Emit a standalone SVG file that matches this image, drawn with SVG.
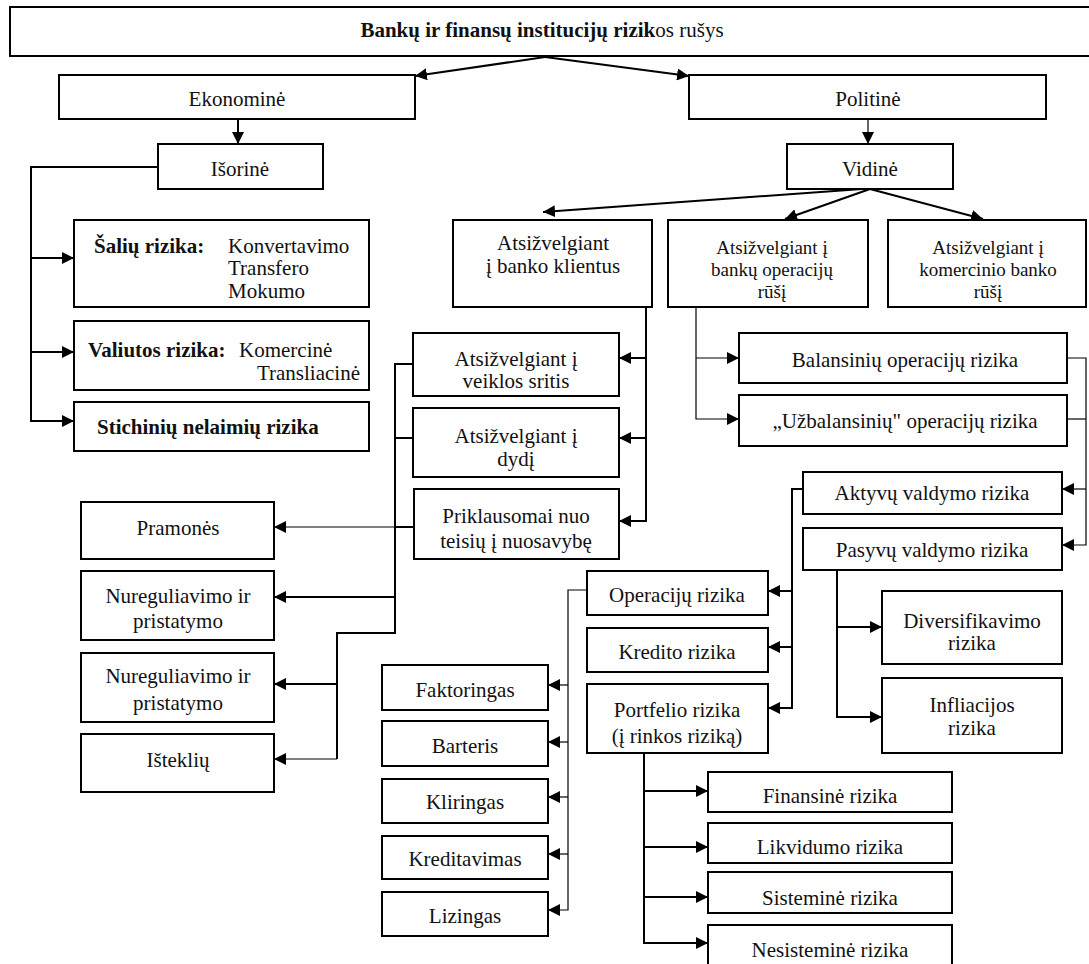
<svg xmlns="http://www.w3.org/2000/svg" width="1089" height="964" viewBox="0 0 1089 964">
<style>
.box{fill:#fff;stroke:#000;stroke-width:2}
.t{font-size:21px;fill:#111}
.s3{font-size:19px}
.c{text-anchor:middle}
.e{text-anchor:end}
.b{font-weight:bold}
.ln{fill:none;stroke:#000;stroke-width:2}
.th{fill:none;stroke:#000;stroke-width:1.2}
</style>
<defs>
<marker id="ah" markerUnits="userSpaceOnUse" markerWidth="12" markerHeight="12" refX="12" refY="6" orient="auto">
<path d="M0,0 L12,6 L0,12 z" fill="#000"/>
</marker>
</defs>
<rect x="0" y="0" width="1089" height="964" fill="#fff"/>

<g id="connectors">
<path class="ln" d="M545,57 L415,76" marker-end="url(#ah)"/>
<path class="ln" d="M545,57 L689,76" marker-end="url(#ah)"/>
<path class="ln" d="M238,119 V144" marker-end="url(#ah)"/>
<path class="th" d="M868,119 V144" marker-end="url(#ah)"/>
<path class="ln" d="M158,167 H31 V421 H74" marker-end="url(#ah)"/>
<path class="ln" d="M31,258 H74" marker-end="url(#ah)"/>
<path class="ln" d="M31,352 H74" marker-end="url(#ah)"/>
<path class="ln" d="M862,189 L543,212" marker-end="url(#ah)"/>
<path class="ln" d="M870,189 L785,219" marker-end="url(#ah)"/>
<path class="ln" d="M870,189 L983,219" marker-end="url(#ah)"/>
<path class="ln" d="M646,307 V521 H619" marker-end="url(#ah)"/>
<path class="ln" d="M646,358 H619" marker-end="url(#ah)"/>
<path class="ln" d="M646,438 H619" marker-end="url(#ah)"/>
<path class="ln" d="M413,364 H395 V633 H337 V759" />
<path class="th" d="M337,759 H274" marker-end="url(#ah)"/>
<path class="ln" d="M413,438 H395"/>
<path class="ln" d="M414,527 H395"/>
<path class="th" d="M395,527 H274" marker-end="url(#ah)"/>
<path class="ln" d="M395,597 H274" marker-end="url(#ah)"/>
<path class="ln" d="M337,684 H274" marker-end="url(#ah)"/>
<path class="th" d="M696,307 V419 H739" marker-end="url(#ah)"/>
<path class="th" d="M696,358 H739" marker-end="url(#ah)"/>
<path class="th" d="M1067,358 H1086 V545 H1062" marker-end="url(#ah)"/>
<path class="th" d="M1067,419 H1086"/>
<path class="th" d="M1086,489 H1062" marker-end="url(#ah)"/>
<path class="ln" d="M803,489 H792 V708 H768" marker-end="url(#ah)"/>
<path class="ln" d="M792,591 H768" marker-end="url(#ah)"/>
<path class="ln" d="M792,647 H768" marker-end="url(#ah)"/>
<path class="ln" d="M837,570 V717 H882" marker-end="url(#ah)"/>
<path class="ln" d="M837,627 H882" marker-end="url(#ah)"/>
<path class="th" d="M587,590 H568 V910 H548" marker-end="url(#ah)"/>
<path class="th" d="M568,685 H548" marker-end="url(#ah)"/>
<path class="th" d="M568,742 H548" marker-end="url(#ah)"/>
<path class="th" d="M568,797 H548" marker-end="url(#ah)"/>
<path class="th" d="M568,854 H548" marker-end="url(#ah)"/>
<path class="ln" d="M644,753 V943 H708" marker-end="url(#ah)"/>
<path class="ln" d="M644,791 H708" marker-end="url(#ah)"/>
<path class="ln" d="M644,847 H708" marker-end="url(#ah)"/>
<path class="ln" d="M644,897 H708" marker-end="url(#ah)"/>
</g>

<g font-family="Liberation Serif, Times New Roman, Tinos, DejaVu Serif, Noto Serif, serif">
<g id="n-title"><rect class="box" x="10" y="7" width="1095" height="49"/><text class="t c b" x="542" y="37">Bankų ir finansų institucijų rizik<tspan font-weight="normal">os rušys</tspan></text></g>
<g id="n-ekonomine"><rect class="box" x="59" y="75" width="356" height="44"/><text class="t c" x="237" y="106">Ekonominė</text></g>
<g id="n-politine"><rect class="box" x="689" y="75" width="357" height="44"/><text class="t c" x="868" y="106">Politinė</text></g>
<g id="n-isorine"><rect class="box" x="158" y="144" width="165" height="45"/><text class="t c" x="240" y="176">Išorinė</text></g>
<g id="n-vidine"><rect class="box" x="787" y="144" width="166" height="45"/><text class="t c" x="870" y="176">Vidinė</text></g>

<g id="n-saliu"><rect class="box" x="74" y="220" width="295" height="87"/>
<text class="t b" x="94" y="253">Šalių rizika:</text>
<text class="t" x="228" y="253">Konvertavimo</text>
<text class="t" x="228" y="275">Transfero</text>
<text class="t" x="228" y="298">Mokumo</text></g>
<g id="n-valiutos"><rect class="box" x="74" y="321" width="295" height="69"/>
<text class="t b" x="88" y="357">Valiutos rizika:</text>
<text class="t" x="239" y="357">Komercinė</text>
<text class="t e" x="360" y="380">Transliacinė</text></g>
<g id="n-stichiniu"><rect class="box" x="74" y="402" width="295" height="49"/><text class="t b" x="97" y="434">Stichinių nelaimių rizika</text></g>

<g id="n-klientus"><rect class="box" x="453" y="220" width="199" height="87"/><text class="t c" x="553" y="250">Atsižvelgiant</text><text class="t c" x="553" y="273">į banko klientus</text></g>
<g id="n-operaciju-rusi"><rect class="box" x="668" y="220" width="200" height="87"/><text class="t s3 c" x="772" y="254">Atsižvelgiant į</text><text class="t s3 c" x="772" y="276">bankų operacijų</text><text class="t s3 c" x="772" y="298">rūšį</text></g>
<g id="n-komercinio"><rect class="box" x="888" y="220" width="198" height="87"/><text class="t s3 c" x="988" y="254">Atsižvelgiant į</text><text class="t s3 c" x="988" y="276">komercinio banko</text><text class="t s3 c" x="988" y="298">rūšį</text></g>

<g id="n-veiklos"><rect class="box" x="413" y="333" width="206" height="63"/><text class="t c" x="516" y="366">Atsižvelgiant į</text><text class="t c" x="516" y="388">veiklos sritis</text></g>
<g id="n-dydi"><rect class="box" x="413" y="408" width="206" height="69"/><text class="t c" x="516" y="443">Atsižvelgiant į</text><text class="t c" x="516" y="466">dydį</text></g>
<g id="n-priklausomai"><rect class="box" x="414" y="489" width="205" height="70"/><text class="t c" x="516" y="523">Priklausomai nuo</text><text class="t c" x="516" y="548">teisių į nuosavybę</text></g>

<g id="n-balansiniu"><rect class="box" x="739" y="333" width="328" height="50"/><text class="t c" x="905" y="367">Balansinių operacijų rizika</text></g>
<g id="n-uzbalansiniu"><rect class="box" x="739" y="395" width="328" height="51"/><text class="t c" x="905" y="428">„Užbalansinių" operacijų rizika</text></g>
<g id="n-aktyvu"><rect class="box" x="803" y="472" width="259" height="42"/><text class="t c" x="932" y="500">Aktyvų valdymo rizika</text></g>
<g id="n-pasyvu"><rect class="box" x="803" y="528" width="259" height="42"/><text class="t c" x="932" y="557">Pasyvų valdymo rizika</text></g>

<g id="n-pramones"><rect class="box" x="81" y="502" width="193" height="57"/><text class="t c" x="178" y="535">Pramonės</text></g>
<g id="n-nureg1"><rect class="box" x="81" y="571" width="193" height="69"/><text class="t c" x="178" y="603">Nureguliavimo ir</text><text class="t c" x="178" y="628">pristatymo</text></g>
<g id="n-nureg2"><rect class="box" x="81" y="653" width="193" height="69"/><text class="t c" x="178" y="683">Nureguliavimo ir</text><text class="t c" x="178" y="710">pristatymo</text></g>
<g id="n-istekliu"><rect class="box" x="81" y="734" width="193" height="58"/><text class="t c" x="178" y="767">Išteklių</text></g>

<g id="n-operaciju"><rect class="box" x="587" y="571" width="181" height="44"/><text class="t c" x="677" y="602">Operacijų rizika</text></g>
<g id="n-kredito"><rect class="box" x="587" y="628" width="181" height="44"/><text class="t c" x="677" y="659">Kredito rizika</text></g>
<g id="n-portfelio"><rect class="box" x="587" y="684" width="181" height="69"/><text class="t c" x="677" y="717">Portfelio rizika</text><text class="t c" x="677" y="743">(į rinkos riziką)</text></g>

<g id="n-diversifikavimo"><rect class="box" x="882" y="591" width="180" height="73"/><text class="t c" x="972" y="628">Diversifikavimo</text><text class="t c" x="972" y="650">rizika</text></g>
<g id="n-infliacijos"><rect class="box" x="882" y="678" width="180" height="75"/><text class="t c" x="972" y="712">Infliacijos</text><text class="t c" x="972" y="735">rizika</text></g>

<g id="n-faktoringas"><rect class="box" x="382" y="665" width="166" height="45"/><text class="t c" x="465" y="697">Faktoringas</text></g>
<g id="n-barteris"><rect class="box" x="382" y="721" width="166" height="45"/><text class="t c" x="465" y="753">Barteris</text></g>
<g id="n-kliringas"><rect class="box" x="382" y="779" width="166" height="44"/><text class="t c" x="465" y="809">Kliringas</text></g>
<g id="n-kreditavimas"><rect class="box" x="382" y="836" width="166" height="43"/><text class="t c" x="465" y="866">Kreditavimas</text></g>
<g id="n-lizingas"><rect class="box" x="382" y="892" width="166" height="44"/><text class="t c" x="465" y="923">Lizingas</text></g>

<g id="n-finansine"><rect class="box" x="708" y="772" width="244" height="40"/><text class="t c" x="830" y="803">Finansinė rizika</text></g>
<g id="n-likvidumo"><rect class="box" x="708" y="823" width="244" height="40"/><text class="t c" x="830" y="854">Likvidumo rizika</text></g>
<g id="n-sistemine"><rect class="box" x="708" y="872" width="244" height="41"/><text class="t c" x="830" y="905">Sisteminė rizika</text></g>
<g id="n-nesistemine"><rect class="box" x="708" y="925" width="244" height="48"/><text class="t c" x="830" y="957">Nesisteminė rizika</text></g>
</g>
</svg>
